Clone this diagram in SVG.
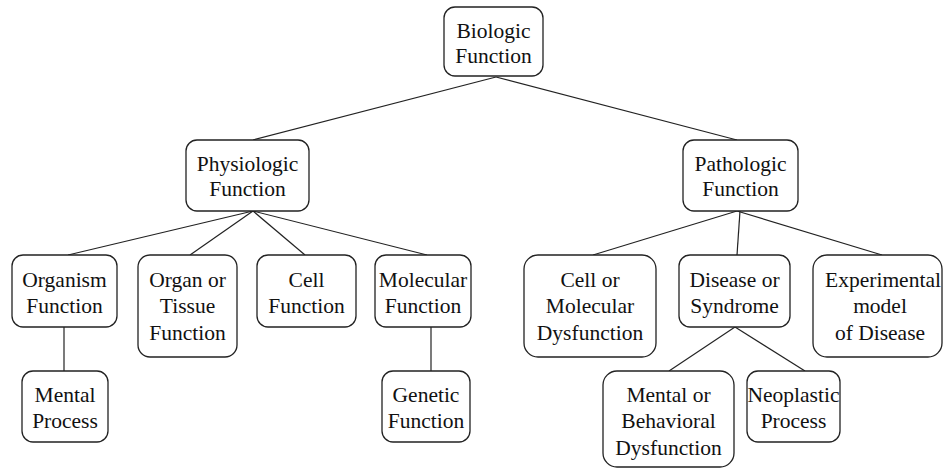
<svg xmlns="http://www.w3.org/2000/svg" width="945" height="471" viewBox="0 0 945 471">
<style>
rect{fill:#fff;stroke:#222;stroke-width:1.3}
text{font-size:21.5px;fill:#111;text-anchor:middle}
#connectors line{stroke:#222;stroke-width:1.2}
</style>
<rect x="0" y="0" width="945" height="471" style="fill:#fff;stroke:none"/>
<g id="connectors">
<line x1="496" y1="77" x2="253" y2="140"/>
<line x1="496" y1="77" x2="737" y2="140"/>
<line x1="253" y1="211" x2="68" y2="255"/>
<line x1="253" y1="211" x2="190" y2="255"/>
<line x1="253" y1="211" x2="305" y2="255"/>
<line x1="253" y1="211" x2="427" y2="255"/>
<line x1="737" y1="211" x2="593" y2="255"/>
<line x1="740" y1="211" x2="737" y2="255"/>
<line x1="737" y1="211" x2="882" y2="255"/>
<line x1="64" y1="327" x2="64" y2="371"/>
<line x1="431" y1="327" x2="431" y2="371"/>
<line x1="735" y1="327" x2="669" y2="371"/>
<line x1="735" y1="327" x2="805" y2="371"/>
</g>
<g font-family="Liberation Serif, DejaVu Serif, serif">
<g id="biologic"><rect x="444" y="7" width="99" height="69" rx="11"/><text x="493.5" y="38">Biologic</text><text x="493.5" y="63">Function</text></g>
<g id="physiologic"><rect x="186" y="140" width="123" height="71" rx="11"/><text x="247.5" y="171">Physiologic</text><text x="247.5" y="196">Function</text></g>
<g id="pathologic"><rect x="683" y="140" width="115" height="71" rx="11"/><text x="740.5" y="171">Pathologic</text><text x="740.5" y="196">Function</text></g>
<g id="organism"><rect x="12" y="255" width="105" height="72" rx="11"/><text x="64.5" y="287">Organism</text><text x="64.5" y="313">Function</text></g>
<g id="organ"><rect x="138" y="255" width="99" height="102" rx="12"/><text x="187.5" y="287">Organ or</text><text x="187.5" y="313">Tissue</text><text x="187.5" y="340">Function</text></g>
<g id="cell"><rect x="257" y="255" width="99" height="72" rx="11"/><text x="306.5" y="287">Cell</text><text x="306.5" y="313">Function</text></g>
<g id="molecular"><rect x="375" y="255" width="96" height="72" rx="11"/><text x="423" y="287">Molecular</text><text x="423" y="313">Function</text></g>
<g id="mental"><rect x="22" y="371" width="86" height="71" rx="11"/><text x="65" y="402">Mental</text><text x="65" y="428">Process</text></g>
<g id="genetic"><rect x="382" y="371" width="88" height="71" rx="11"/><text x="426" y="402">Genetic</text><text x="426" y="428">Function</text></g>
<g id="cellmol"><rect x="524" y="255" width="132" height="102" rx="14"/><text x="590" y="287">Cell or</text><text x="590" y="313">Molecular</text><text x="590" y="340">Dysfunction</text></g>
<g id="disease"><rect x="679" y="255" width="111" height="72" rx="11"/><text x="734.5" y="287">Disease or</text><text x="734.5" y="313">Syndrome</text></g>
<g id="experimental"><rect x="813" y="255" width="129" height="102" rx="14"/><text x="883" y="287">Experimental</text><text x="880" y="313">model</text><text x="880" y="340">of Disease</text></g>
<g id="mentalbeh"><rect x="603" y="371" width="131" height="96" rx="14"/><text x="668.5" y="402">Mental or</text><text x="668.5" y="428">Behavioral</text><text x="668.5" y="455">Dysfunction</text></g>
<g id="neoplastic"><rect x="747" y="371" width="93" height="71" rx="11"/><text x="793.5" y="402">Neoplastic</text><text x="793.5" y="428">Process</text></g>
</g>
</svg>
